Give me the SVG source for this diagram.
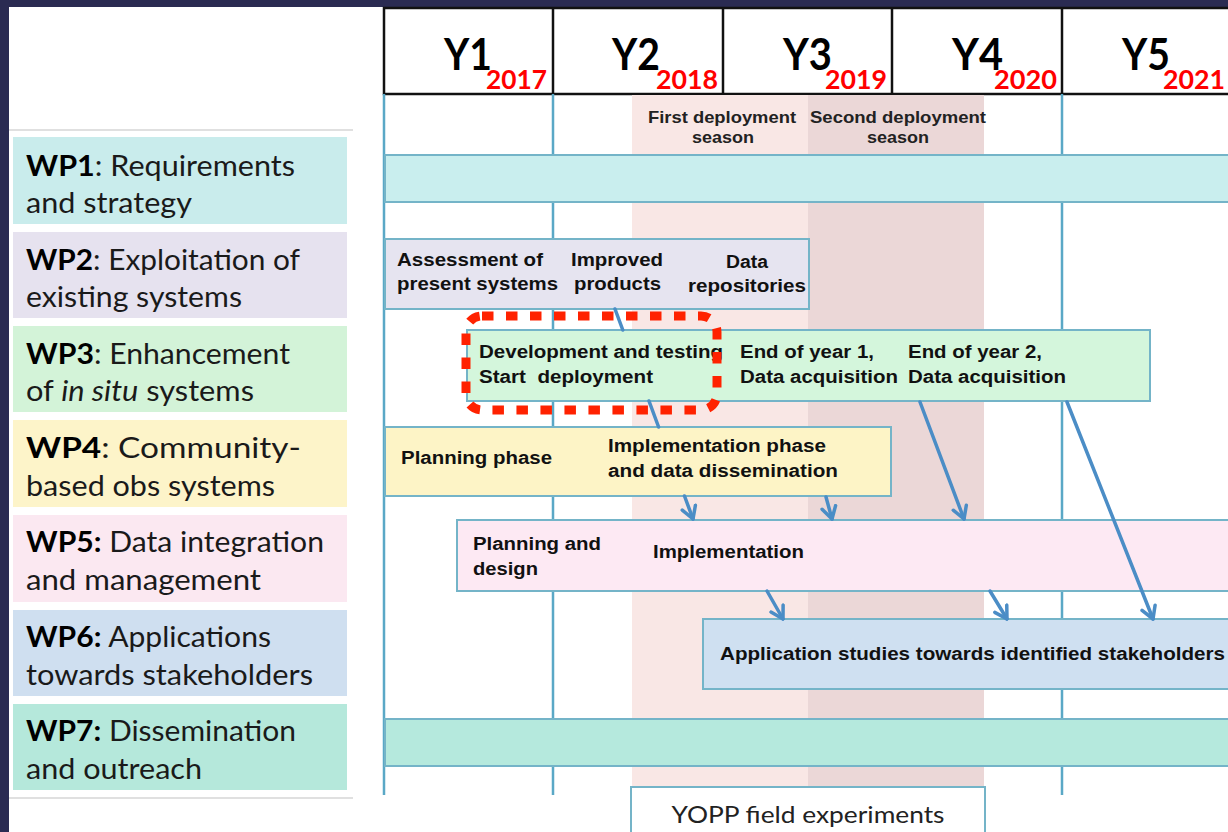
<svg xmlns="http://www.w3.org/2000/svg" width="1228" height="832" viewBox="0 0 1228 832">
<style>
.lbl{font-family:Lato,"Open Sans",sans-serif;font-size:28px;fill:#1a1a1a}
.b{font-weight:bold;fill:#000}
.hd{font-family:Lato,"Liberation Sans",sans-serif;font-weight:bold;font-size:43px;fill:#000}
.yr{font-family:Lato,"Liberation Sans",sans-serif;font-weight:bold;font-size:27px;fill:#ff0000}
.t{font-family:"Liberation Sans",Arial,sans-serif;font-weight:bold;font-size:18px;fill:#111}
.ss{font-family:"Liberation Sans",Arial,sans-serif;font-weight:bold;font-size:16.5px;fill:#222}
.box{stroke:#74b4c8;stroke-width:2}
.grid{stroke:#5aa8c6;stroke-width:2.5}
.conn{stroke:#4b8dc6;stroke-width:3.5;fill:none;stroke-linecap:round}
</style>
<defs>
<marker id="ah" markerUnits="userSpaceOnUse" viewBox="-14 -9 16 18" refX="0" refY="0" markerWidth="16" markerHeight="18" orient="auto">
<path d="M-12,-7 L0,0 L-12,7" fill="none" stroke="#4b8dc6" stroke-width="3.5" stroke-linecap="round" stroke-linejoin="round"/>
</marker>
</defs>
<rect x="0" y="0" width="1228" height="832" fill="#2a2b52"/>
<rect x="9" y="7" width="1219" height="825" fill="#ffffff"/>
<!-- left panel -->
<line x1="9" y1="130" x2="353" y2="130" stroke="#d6d6d6" stroke-width="1.5"/>
<line x1="9" y1="798" x2="353" y2="798" stroke="#d6d6d6" stroke-width="1.5"/>
<g id="label-wp1"><rect x="13" y="137" width="334" height="87" fill="#c9ecec"/>
<text class="lbl" x="26" y="176" textLength="269" lengthAdjust="spacingAndGlyphs"><tspan class="b">WP1</tspan>: Requirements</text>
<text class="lbl" x="26" y="213" textLength="166" lengthAdjust="spacingAndGlyphs">and strategy</text></g>
<g id="label-wp2"><rect x="13" y="232" width="334" height="86" fill="#e6e2ef"/>
<text class="lbl" x="26" y="270" textLength="274" lengthAdjust="spacingAndGlyphs"><tspan class="b">WP2</tspan>: Exploitation of</text>
<text class="lbl" x="26" y="307" textLength="216" lengthAdjust="spacingAndGlyphs">existing systems</text></g>
<g id="label-wp3"><rect x="13" y="326" width="334" height="86" fill="#d3f3d8"/>
<text class="lbl" x="26" y="364" textLength="264" lengthAdjust="spacingAndGlyphs"><tspan class="b">WP3</tspan>: Enhancement</text>
<text class="lbl" x="26" y="401" textLength="228" lengthAdjust="spacingAndGlyphs">of <tspan font-style="italic">in situ</tspan> systems</text></g>
<g id="label-wp4"><rect x="13" y="420" width="334" height="87" fill="#fdf4c9"/>
<text class="lbl" x="26" y="458" textLength="275" lengthAdjust="spacingAndGlyphs"><tspan class="b">WP4</tspan>: Community-</text>
<text class="lbl" x="26" y="496" textLength="249" lengthAdjust="spacingAndGlyphs">based obs systems</text></g>
<g id="label-wp5"><rect x="13" y="515" width="334" height="87" fill="#fbe8f1"/>
<text class="lbl" x="26" y="552" textLength="298" lengthAdjust="spacingAndGlyphs"><tspan class="b">WP5:</tspan> Data integration</text>
<text class="lbl" x="26" y="590" textLength="235" lengthAdjust="spacingAndGlyphs">and management</text></g>
<g id="label-wp6"><rect x="13" y="610" width="334" height="86" fill="#cfdff0"/>
<text class="lbl" x="26" y="647" textLength="245" lengthAdjust="spacingAndGlyphs"><tspan class="b">WP6:</tspan> Applications</text>
<text class="lbl" x="26" y="685" textLength="287" lengthAdjust="spacingAndGlyphs">towards stakeholders</text></g>
<g id="label-wp7"><rect x="13" y="704" width="334" height="86" fill="#b5e8db"/>
<text class="lbl" x="26" y="741" textLength="270" lengthAdjust="spacingAndGlyphs"><tspan class="b">WP7:</tspan> Dissemination</text>
<text class="lbl" x="26" y="779" textLength="176" lengthAdjust="spacingAndGlyphs">and outreach</text></g>
<!-- header -->
<g id="header">
<rect x="384" y="8" width="860" height="86" fill="#fff" stroke="#111" stroke-width="2.5"/>
<line x1="553" y1="8" x2="553" y2="94" stroke="#111" stroke-width="2.5"/>
<line x1="723" y1="8" x2="723" y2="94" stroke="#111" stroke-width="2.5"/>
<line x1="892" y1="8" x2="892" y2="94" stroke="#111" stroke-width="2.5"/>
<line x1="1062" y1="8" x2="1062" y2="94" stroke="#111" stroke-width="2.5"/>
<text class="hd" x="444" y="70" textLength="48" lengthAdjust="spacingAndGlyphs">Y1</text>
<text class="yr" x="486" y="89" textLength="61" lengthAdjust="spacingAndGlyphs">2017</text>
<text class="hd" x="612" y="70" textLength="48" lengthAdjust="spacingAndGlyphs">Y2</text>
<text class="yr" x="656" y="89" textLength="62" lengthAdjust="spacingAndGlyphs">2018</text>
<text class="hd" x="783" y="70" textLength="49" lengthAdjust="spacingAndGlyphs">Y3</text>
<text class="yr" x="825" y="89" textLength="62" lengthAdjust="spacingAndGlyphs">2019</text>
<text class="hd" x="952" y="70" textLength="51" lengthAdjust="spacingAndGlyphs">Y4</text>
<text class="yr" x="994" y="89" textLength="63" lengthAdjust="spacingAndGlyphs">2020</text>
<text class="hd" x="1122" y="70" textLength="48" lengthAdjust="spacingAndGlyphs">Y5</text>
<text class="yr" x="1163" y="89" textLength="62" lengthAdjust="spacingAndGlyphs">2021</text>
</g>
<!-- grid -->
<g id="grid">
<line class="grid" x1="384" y1="94" x2="384" y2="795"/>
<line class="grid" x1="553" y1="94" x2="553" y2="795"/>
<line class="grid" x1="1062" y1="94" x2="1062" y2="795"/>
</g>
<!-- seasons -->
<g id="season1"><rect x="632" y="95" width="176" height="692" fill="#f9e7e5"/>
<text class="ss" x="722" y="123" text-anchor="middle" textLength="148" lengthAdjust="spacingAndGlyphs">First deployment</text>
<text class="ss" x="723" y="143" text-anchor="middle" textLength="62" lengthAdjust="spacingAndGlyphs">season</text></g>
<g id="season2"><rect x="808" y="95" width="176" height="692" fill="#ebd7d7"/>
<text class="ss" x="898" y="123" text-anchor="middle" textLength="176" lengthAdjust="spacingAndGlyphs">Second deployment</text>
<text class="ss" x="898" y="143" text-anchor="middle" textLength="62" lengthAdjust="spacingAndGlyphs">season</text></g>
<g id="yopp"><rect x="631" y="787" width="354" height="50" fill="#fff" stroke="#74b4c8" stroke-width="2"/>
<text x="808" y="823" text-anchor="middle" font-family="Lato,'Open Sans',sans-serif" font-size="24" fill="#222" textLength="273" lengthAdjust="spacingAndGlyphs">YOPP field experiments</text></g>
<!-- bars -->
<g id="wp1"><rect class="box" x="385" y="155" width="850" height="47" fill="#c9eeee"/></g>
<g id="wp2"><rect class="box" x="385" y="239" width="424" height="70" fill="#e6e4f0"/>
<text class="t" x="397" y="266" textLength="146" lengthAdjust="spacingAndGlyphs">Assessment of</text>
<text class="t" x="397" y="290" textLength="161" lengthAdjust="spacingAndGlyphs">present systems</text>
<text class="t" x="571" y="266" textLength="92" lengthAdjust="spacingAndGlyphs">Improved</text>
<text class="t" x="574" y="290" textLength="87" lengthAdjust="spacingAndGlyphs">products</text>
<text class="t" x="726" y="268" textLength="42" lengthAdjust="spacingAndGlyphs">Data</text>
<text class="t" x="688" y="292" textLength="118" lengthAdjust="spacingAndGlyphs">repositories</text></g>
<g id="wp3"><rect class="box" x="467" y="330" width="683" height="71" fill="#d4f6dc"/>
<text class="t" x="479" y="358" textLength="244" lengthAdjust="spacingAndGlyphs">Development and testing</text>
<text class="t" x="479" y="383" textLength="174" lengthAdjust="spacingAndGlyphs" xml:space="preserve">Start  deployment</text>
<text class="t" x="740" y="358" textLength="134" lengthAdjust="spacingAndGlyphs">End of year 1,</text>
<text class="t" x="740" y="383" textLength="158" lengthAdjust="spacingAndGlyphs">Data acquisition</text>
<text class="t" x="908" y="358" textLength="134" lengthAdjust="spacingAndGlyphs">End of year 2,</text>
<text class="t" x="908" y="383" textLength="158" lengthAdjust="spacingAndGlyphs">Data acquisition</text></g>
<g id="wp4"><rect class="box" x="385" y="427" width="506" height="69" fill="#fdf4c6"/>
<text class="t" x="401" y="464" textLength="151" lengthAdjust="spacingAndGlyphs">Planning phase</text>
<text class="t" x="608" y="452" textLength="218" lengthAdjust="spacingAndGlyphs">Implementation phase</text>
<text class="t" x="608" y="477" textLength="230" lengthAdjust="spacingAndGlyphs">and data dissemination</text></g>
<g id="wp5"><rect class="box" x="457" y="520" width="780" height="71" fill="#fde9f3"/>
<text class="t" x="473" y="550" textLength="128" lengthAdjust="spacingAndGlyphs">Planning and</text>
<text class="t" x="473" y="575" textLength="65" lengthAdjust="spacingAndGlyphs">design</text>
<text class="t" x="653" y="558" textLength="151" lengthAdjust="spacingAndGlyphs">Implementation</text></g>
<g id="wp6"><rect class="box" x="703" y="619" width="534" height="70" fill="#cfe0f1"/>
<text class="t" x="720" y="660" textLength="505" lengthAdjust="spacingAndGlyphs">Application studies towards identified stakeholders</text></g>
<g id="wp7"><rect class="box" x="385" y="719" width="850" height="47" fill="#b5e9dd"/></g>
<!-- highlight -->
<g id="highlight"><rect x="466" y="316" width="251" height="94" rx="16" fill="none" stroke="#ff2200" stroke-width="9" stroke-dasharray="11.5 12.5"/></g>
<!-- connectors -->
<g id="connectors">
<path class="conn" d="M615,309 L622.8,330 M649,401 L658.6,427 M684.5,496 L693,519" marker-end="url(#ah)"/>
<path class="conn" d="M826,497 L832,519" marker-end="url(#ah)"/>
<path class="conn" d="M920,402 L964,519" marker-end="url(#ah)"/>
<path class="conn" d="M1067,402 L1153,619" marker-end="url(#ah)"/>
<path class="conn" d="M767,591 L783,619" marker-end="url(#ah)"/>
<path class="conn" d="M990,591 L1007,619" marker-end="url(#ah)"/>
</g>
</svg>
